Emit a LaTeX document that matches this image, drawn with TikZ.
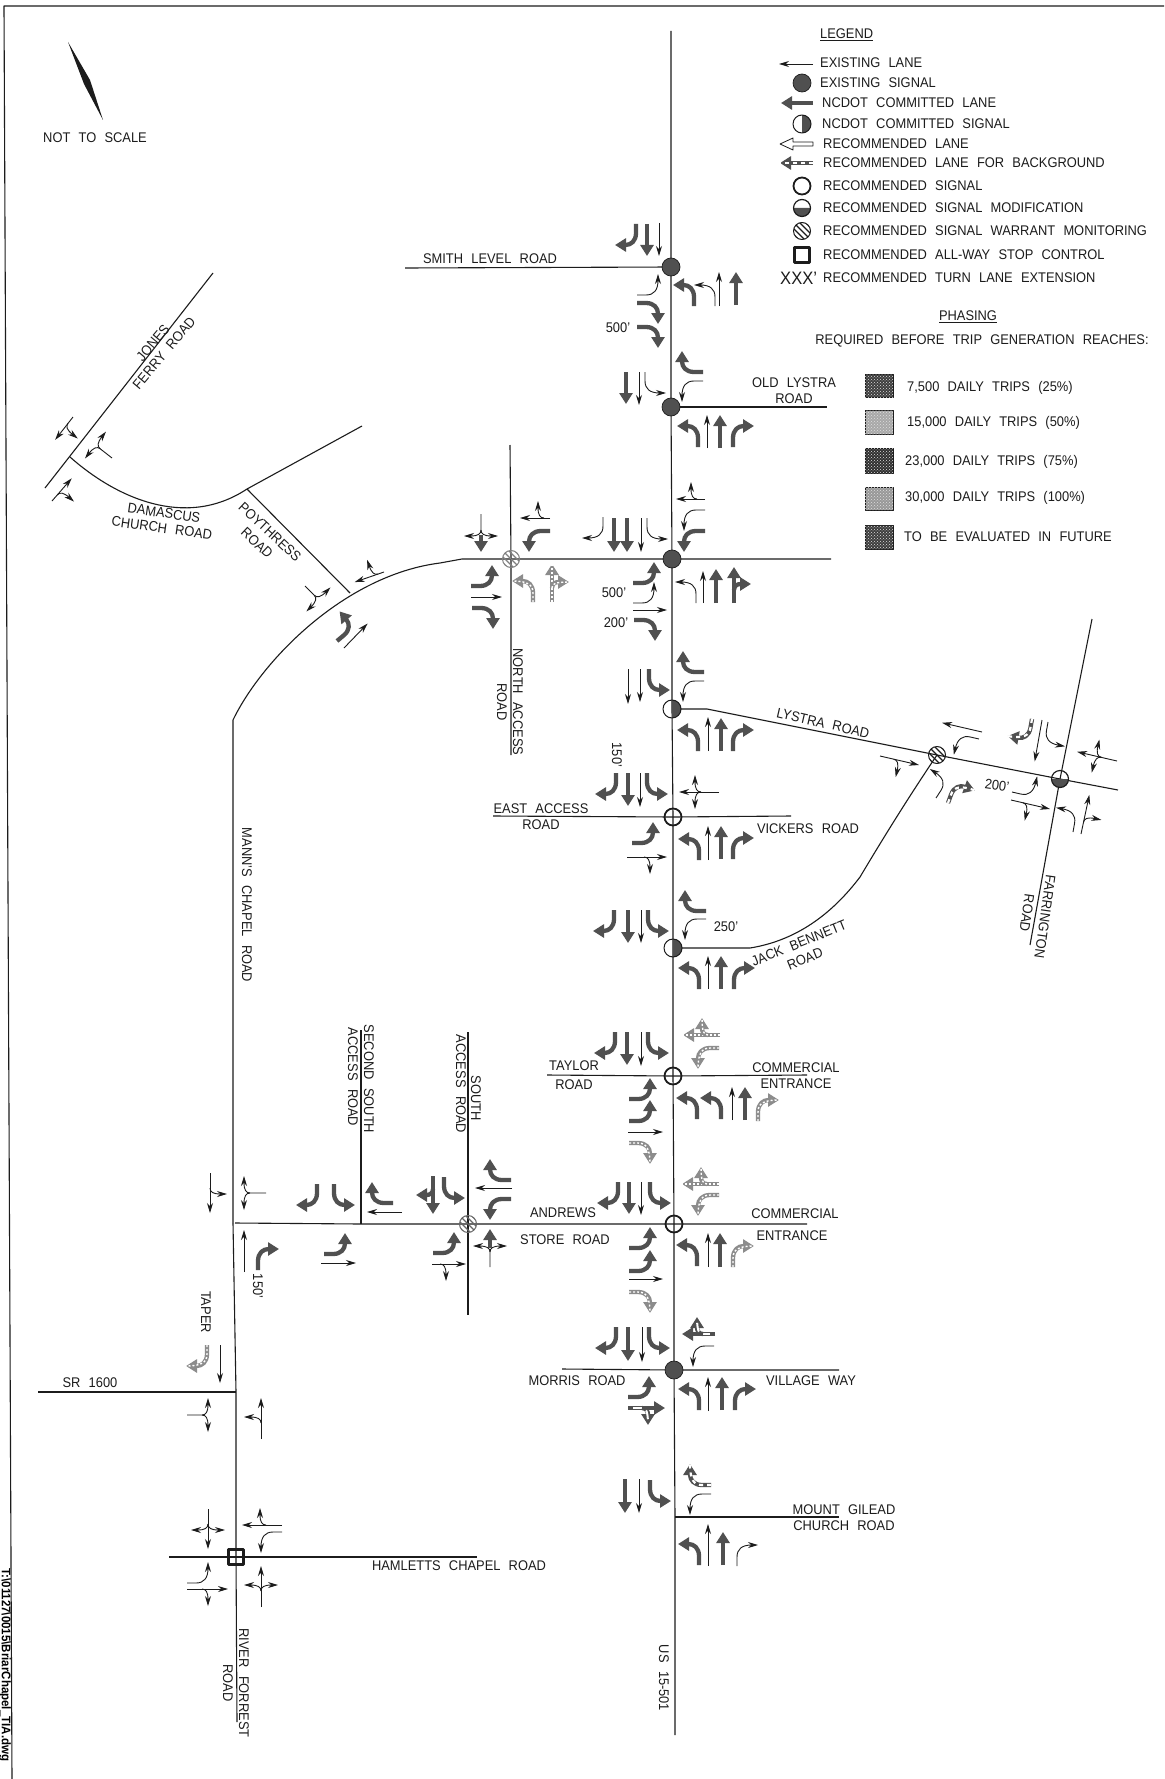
\documentclass[tikz,border=0pt]{standalone}
\usepackage{fontspec}
\setmainfont[WordSpace=2.3,FakeStretch=0.92]{Liberation Sans}
\usetikzlibrary{arrows.meta,calc,positioning,patterns}
\definecolor{roadInk}{HTML}{1C1C1C}
\definecolor{laneDark}{HTML}{505050}
\definecolor{laneLight}{HTML}{8C8C8C}
\definecolor{phaseOne}{HTML}{3E3E3E}
\definecolor{phaseTwo}{HTML}{A8A8A8}
\definecolor{phaseThree}{HTML}{303030}
\definecolor{phaseFour}{HTML}{989898}
\tikzset{
  lanebody/.style={},
  exlane/.style={lanebody/.style={draw=roadInk,line width=.9pt,-{Stealth[length=10pt,width=6pt]}}},
  cmlane/.style={lanebody/.style={draw=laneDark,line width=4.3pt,-{Triangle[length=11pt,width=13pt]}}},
  bglane/.style={lanebody/.style={draw=laneLight,line width=4.3pt,-{Triangle[length=11pt,width=13pt]},postaction={draw=white,line width=1.4pt,dash pattern=on 2pt off 2pt,-}}},
  rclane/.style={lanebody/.style={draw=laneDark,line width=4.3pt,-{Triangle[length=11pt,width=13pt]},postaction={draw=white,line width=2.2pt,dash pattern=on 4pt off 4pt,-}}},
  mxlane/.style={lanebody/.style={draw=laneDark,line width=4.3pt,-{Triangle[length=11pt,width=13pt]},postaction={draw=white,line width=2pt,dash pattern=on 0pt off 5pt on 9pt off 60pt,-}}},
  pics/th/.style={code={\draw[lanebody] (0,0) -- (0,-#1);}},
  pics/lt/.style={code={\draw[lanebody] (0,0) -- (0,-9) .. controls (0,-17) and (-5,-21) .. (-21,-21);}},
  pics/rt/.style={code={\draw[lanebody] (0,0) -- (0,-9) .. controls (0,-17) and (5,-21) .. (21,-21);}},
  pics/lr/.style={code={\draw[lanebody] (0,0) -- (0,-#1) .. controls (0,-#1-4) and (-3,-#1-6) .. (-17,-#1-6);
    \draw[lanebody] (0,-#1) .. controls (0,-#1-4) and (3,-#1-6) .. (17,-#1-6);}},
  pics/tl/.style args={#1/#2}{code={\draw[lanebody] (0,0) -- (0,-#1);
    \draw[lanebody] (0,-#2) .. controls (0,-#2-4) and (-3,-#2-6) .. (-17,-#2-6);}},
  pics/tr/.style args={#1/#2}{code={\draw[lanebody] (0,0) -- (0,-#1);
    \draw[lanebody] (0,-#2) .. controls (0,-#2-4) and (3,-#2-6) .. (17,-#2-6);}},
  pics/tlr/.style args={#1/#2}{code={\draw[lanebody] (0,0) -- (0,-#1);
    \draw[lanebody] (0,-#2) .. controls (0,-#2-4) and (-3,-#2-6) .. (-17,-#2-6);
    \draw[lanebody] (0,-#2) .. controls (0,-#2-4) and (3,-#2-6) .. (17,-#2-6);}},
  pics/exsig/.style={code={\fill[laneDark] (0,0) circle (9pt); \draw[line width=.7pt,roadInk] (0,0) circle (9pt);}},
  pics/cmsig/.style={code={\fill[laneDark] (0,-9) arc (90:-90:9pt) -- cycle; \draw[line width=1pt,roadInk] (0,0) circle (9pt);}},
  pics/rcsig/.style={code={\draw[line width=1.8pt,roadInk] (0,0) circle (8.5pt);}},
  pics/modsig/.style={code={\fill[laneDark] (-8.5,0) arc (180:360:8.5pt) -- cycle; \draw[line width=1.2pt,roadInk] (0,0) circle (8.5pt);}},
  pics/wmsig/.style={code={\begin{scope} \clip (0,0) circle (8.5pt);
      \foreach \d in {-12,-6,0,6,12} \draw[line width=1.2pt] (\d-10,-10) -- (\d+10,10);
    \end{scope} \draw[line width=1pt] (0,0) circle (8.5pt);}},
  pics/awsq/.style={code={\draw[line width=2.2pt,roadInk] (-7.5,-7.5) rectangle (7.5,7.5);}},
  road/.style={draw=roadInk,line width=1.1pt},
  rdtxt/.style={font=\fontsize{14}{15}\selectfont,inner sep=0pt,text=roadInk,align=center},
  legtxt/.style={rdtxt,anchor=west},
  phbox/.style={draw=roadInk,line width=.5pt,postaction={pattern=crosshatch dots,pattern color=white!75!gray}}
}
\begin{document}
\begin{tikzpicture}[x=1pt,y=-1pt,>=Stealth,line cap=butt,line join=round]
\useasboundingbox (0,0) rectangle (1164,1779);
\fill[white] (0,0) rectangle (1164,1779);
\draw[line width=1.1pt,roadInk] (1164,6) -- (4,6) -- (12,1779);
\node[rotate=-90,font=\bfseries\fontsize{12.5}{12.5}\selectfont,inner sep=0pt] (filetag) at (5,1665) {T:\textbackslash 01127\textbackslash 0015\textbackslash BriarChapel\_TIA.dwg};
% north arrow
\fill[roadInk] (68,42) -- (90,80) -- (103,120) -- (84,84) -- cycle;
\node[rdtxt] (scalelbl) at (95,138) {NOT TO SCALE};
% intersections
\coordinate (smith) at (671,267); \coordinate (oldlys) at (671,407); \coordinate (fordham) at (672,559);
\coordinate (lystra) at (672,709); \coordinate (vickers) at (673,817); \coordinate (jack) at (673,948);
\coordinate (taylor) at (673,1076); \coordinate (andrews) at (674,1224); \coordinate (morris) at (674,1370);
\coordinate (gilead) at (675,1517); \coordinate (nacc) at (511,559); \coordinate (sacc) at (468,1224);
\coordinate (ssacc) at (361,1224); \coordinate (mann) at (235,1223); \coordinate (sr) at (236,1392);
\coordinate (hamlet) at (236,1557); \coordinate (lyswest) at (937,755); \coordinate (farr) at (1060,779);
\coordinate (poy) at (350,593); \coordinate (dam) at (247,489); \coordinate (jones) at (70,457);
% roads
\draw[road] (671,31) -- (smith) -- (oldlys) -- (fordham) -- (lystra) -- (vickers) -- (jack) -- (taylor) -- (andrews) -- (morris) -- (gilead) -- (675,1735);
\draw[road] (405,268) -- (smith); \draw[road] (oldlys) -- (827,407);
\draw[road] (233,1223) -- (233,720) .. controls (262,660) and (345,575) .. (440,563) -- (462,559) -- (nacc) -- (fordham) -- (831,559);
\draw[road] (510,445) -- (nacc) -- (511,755);
\draw[road] (lystra) -- (707,709) -- (lyswest) -- (farr) -- (1118,790);
\draw[road] (1092,619) -- (farr) -- (1030,945);
\draw[road] (493,816) -- (vickers) -- (791,816);
\draw[road] (jack) -- (750,948) .. controls (800,940) and (835,910) .. (860,877) .. controls (885,835) and (910,795) .. (lyswest);
\draw[road] (547,1075) -- (taylor) -- (807,1075);
\draw[road] (mann) -- (ssacc) -- (sacc) -- (andrews) -- (807,1224);
\draw[road] (sacc) -- (468,1315); \draw[road] (468,1032) -- (sacc); \draw[road] (361,1030) -- (ssacc);
\draw[road] (562,1369) -- (morris) -- (839,1370);
\draw[road] (gilead) -- (839,1517);
\draw[road] (233,1223) -- (sr) -- (hamlet) -- (237,1722);
\draw[road] (38,1392) -- (sr); \draw[road] (169,1557) -- (hamlet) -- (477,1557);
\draw[road] (213,273) -- (45,488);
\draw[road] (jones) .. controls (115,497) and (185,530) .. (dam) -- (362,426);
\draw[road] (dam) -- (poy);
% signals
\pic at (smith) {exsig}; \pic at (oldlys) {exsig}; \pic at (fordham) {exsig}; \pic at (morris) {exsig};
\pic at (lystra) {cmsig}; \pic at (jack) {cmsig};
\pic at (vickers) {rcsig}; \pic at (taylor) {rcsig}; \pic at (andrews) {rcsig};
\pic[gray] at (nacc) {wmsig}; \pic[gray!80!black] at (sacc) {wmsig}; \pic[roadInk] at (lyswest) {wmsig};
\pic at (farr) {modsig}; \pic at (hamlet) {awsq};
% smith level
\pic[cmlane,rotate=180] at (636,224) {rt}; \pic[cmlane,rotate=180] at (647,224) {th=32}; \pic[exlane,rotate=180] at (659,223) {th=33};
\pic[exlane,rotate=-90] at (637,295) {lt}; \pic[cmlane,rotate=-90] at (637,303) {rt}; \pic[cmlane,rotate=-90] at (637,327) {rt};
\pic[cmlane] at (694,306) {lt}; \pic[exlane] at (715,306) {lt}; \pic[exlane] at (719,306) {th=34}; \pic[cmlane] at (736,305) {th=33};
% old lystra
\pic[cmlane,rotate=90] at (703,372) {rt}; \pic[exlane,rotate=90] at (703,381) {lt};
\pic[cmlane,rotate=180] at (626,372) {th=32}; \pic[exlane,rotate=180] at (639,372) {th=33}; \pic[exlane,rotate=180] at (645,372) {lt};
\pic[cmlane] at (698,447) {lt}; \pic[exlane] at (707,448) {th=33}; \pic[cmlane] at (720,448) {th=33}; \pic[cmlane] at (733,447) {rt};
% fordham
\pic[exlane,rotate=90] at (705,499) {tr=29/8}; \pic[exlane,rotate=90] at (705,510) {lt}; \pic[cmlane,rotate=90] at (705,531) {lt};
\pic[exlane,rotate=180] at (603,517) {rt}; \pic[cmlane,rotate=180] at (614,518) {th=34}; \pic[cmlane,rotate=180] at (627,518) {th=34};
\pic[exlane,rotate=180] at (641,518) {th=34}; \pic[exlane,rotate=180] at (647,518) {lt};
\pic[cmlane,rotate=-90] at (633,583) {lt}; \pic[exlane,rotate=-90] at (633,603) {lt}; \pic[exlane,rotate=-90] at (633,610) {th=34}; \pic[cmlane,rotate=-90] at (634,620) {rt};
\pic[exlane] at (696,603) {lt}; \pic[exlane] at (703,603) {th=32}; \pic[cmlane] at (716,603) {th=34}; \pic[cmlane] at (734,603) {tr=36/13};
% north access
\pic[exlane,rotate=180] at (481,514) {lr=16}; \pic[cmlane,rotate=180] at (481,535) {th=17};
\pic[exlane,rotate=90] at (550,518) {tr=30/6}; \pic[cmlane,rotate=90] at (550,531) {lt};
\pic[cmlane,rotate=-90] at (471,586) {lt}; \pic[exlane,rotate=-90] at (471,597) {th=31}; \pic[cmlane,rotate=-90] at (472,608) {rt};
\pic[bglane] at (533,602) {lt}; \pic[bglane] at (552,602) {tr=38/14};
% poythress
\pic[exlane,rotate=109] at (384,572) {tr=31/6}; \pic[exlane,rotate=-135] at (305,586) {lr=13};
\pic[cmlane,rotate=-50] at (337,641) {lt}; \pic[exlane,rotate=-44] at (344,648) {th=34};
% jones ferry
\pic[exlane,rotate=52] at (112,458) {lr=15}; \pic[exlane,rotate=142] at (73,417) {tl=29/8}; \pic[exlane,rotate=-41] at (52,501) {tr=30/8};
% lystra
\pic[cmlane,rotate=90] at (704,672) {rt}; \pic[exlane,rotate=90] at (704,681) {lt};
\pic[exlane,rotate=180] at (628,669) {th=35}; \pic[exlane,rotate=180] at (640,669) {th=33}; \pic[cmlane,rotate=180] at (649,669) {lt};
\pic[cmlane] at (698,751) {lt}; \pic[exlane] at (708,751) {th=34}; \pic[cmlane] at (721,751) {th=33}; \pic[cmlane] at (733,751) {rt};
% vickers
\pic[cmlane,rotate=180] at (616,773) {rt}; \pic[cmlane,rotate=180] at (628,773) {th=33}; \pic[exlane,rotate=180] at (640,773) {th=34}; \pic[cmlane,rotate=180] at (647,773) {lt};
\pic[exlane,rotate=90] at (719,792) {tlr=40/18};
\pic[cmlane,rotate=-90] at (632,843) {lt}; \pic[exlane,rotate=-90] at (627,857) {tr=40/17};
\pic[cmlane] at (699,860) {lt}; \pic[exlane] at (708,860) {th=34}; \pic[cmlane] at (721,859) {th=33}; \pic[cmlane] at (733,859) {rt};
% jack bennett
\pic[cmlane,rotate=90] at (706,911) {rt}; \pic[exlane,rotate=90] at (706,919) {lt};
\pic[cmlane,rotate=180] at (614,910) {rt}; \pic[cmlane,rotate=180] at (628,910) {th=33}; \pic[exlane,rotate=180] at (641,910) {th=33}; \pic[cmlane,rotate=180] at (648,910) {lt};
\pic[cmlane] at (699,989) {lt}; \pic[exlane] at (708,989) {th=33}; \pic[cmlane] at (721,989) {th=33}; \pic[cmlane] at (734,989) {rt};
% lystra west and farrington
\pic[exlane,rotate=77] at (982,732) {th=41}; \pic[exlane,rotate=77] at (979,739) {lt}; \pic[exlane,rotate=-103] at (880,756) {tr=40/14};
\pic[exlane,rotate=-33] at (936,798) {lt}; \pic[rclane,rotate=-20] at (948,803) {rt};
\pic[rclane,rotate=170] at (1032,719) {rt}; \pic[exlane,rotate=170] at (1042,720) {th=42}; \pic[exlane,rotate=170] at (1048,722) {lt};
\pic[exlane,rotate=77] at (1117,761) {tlr=41/16};
\pic[exlane,rotate=-103] at (1012,792) {lt}; \pic[exlane,rotate=-103] at (1011,800) {tr=40/12};
\pic[exlane,rotate=-10] at (1073,832) {lt}; \pic[exlane,rotate=-12] at (1081,834) {tr=40/12};
% taylor
\pic[cmlane,rotate=180] at (615,1032) {rt}; \pic[cmlane,rotate=180] at (627,1032) {th=33}; \pic[exlane,rotate=180] at (641,1032) {th=34}; \pic[cmlane,rotate=180] at (648,1032) {lt};
\pic[bglane,rotate=90] at (720,1035) {tr=37/12}; \pic[bglane,rotate=90] at (719,1048) {lt};
\pic[cmlane,rotate=-90] at (629,1099) {lt}; \pic[cmlane,rotate=-90] at (629,1121) {lt}; \pic[exlane,rotate=-90] at (628,1132) {th=35}; \pic[bglane,rotate=-90] at (629,1143) {rt};
\pic[cmlane] at (697,1119) {lt}; \pic[cmlane] at (721,1119) {lt}; \pic[exlane] at (732,1120) {th=33}; \pic[cmlane] at (745,1120) {th=33}; \pic[bglane] at (758,1121) {rt};
% andrews
\pic[cmlane,rotate=180] at (618,1182) {rt}; \pic[cmlane,rotate=180] at (629,1182) {th=32}; \pic[exlane,rotate=180] at (641,1182) {th=33}; \pic[cmlane,rotate=180] at (650,1182) {lt};
\pic[bglane,rotate=90] at (719,1184) {tr=37/12}; \pic[bglane,rotate=90] at (719,1195) {lt};
\pic[cmlane,rotate=-90] at (629,1248) {lt}; \pic[cmlane,rotate=-90] at (629,1271) {lt}; \pic[exlane,rotate=-90] at (629,1279) {th=34}; \pic[bglane,rotate=-90] at (629,1292) {rt};
\pic[cmlane] at (697,1266) {lt}; \pic[exlane] at (708,1267) {th=34}; \pic[cmlane] at (720,1267) {th=34}; \pic[bglane] at (733,1267) {rt};
% morris
\pic[cmlane,rotate=180] at (616,1327) {rt}; \pic[cmlane,rotate=180] at (628,1327) {th=34}; \pic[exlane,rotate=180] at (642,1327) {th=35}; \pic[cmlane,rotate=180] at (649,1327) {lt};
\pic[mxlane,rotate=90] at (715,1334) {tr=33/12}; \pic[exlane,rotate=90] at (714,1346) {lt};
\pic[cmlane,rotate=-90] at (628,1397) {lt}; \pic[mxlane,rotate=-90] at (628,1408) {tr=37/14};
\pic[cmlane] at (699,1410) {lt}; \pic[exlane] at (708,1411) {th=34}; \pic[cmlane] at (722,1410) {th=33}; \pic[cmlane] at (735,1410) {rt};
% mount gilead
\pic[cmlane,rotate=180] at (625,1479) {th=34}; \pic[exlane,rotate=180] at (639,1479) {th=34}; \pic[cmlane,rotate=180] at (650,1480) {lt};
\pic[rclane,rotate=90] at (711,1485) {rt}; \pic[exlane,rotate=90] at (711,1494) {lt};
\pic[cmlane] at (699,1565) {lt}; \pic[exlane] at (708,1566) {th=42}; \pic[cmlane] at (723,1565) {th=33}; \pic[exlane] at (737,1566) {rt};
% andrews west
\pic[exlane,rotate=180] at (210,1173) {tl=40/15}; \pic[exlane,rotate=90] at (266,1193) {lr=16};
\pic[exlane] at (244,1272) {th=42}; \pic[cmlane] at (258,1270) {rt};
\pic[cmlane,rotate=180] at (317,1184) {rt}; \pic[cmlane,rotate=180] at (334,1184) {lt};
\pic[cmlane,rotate=-90] at (324,1254) {lt}; \pic[exlane,rotate=-90] at (321,1263) {th=35};
\pic[cmlane,rotate=90] at (393,1203) {rt}; \pic[exlane,rotate=90] at (402,1212) {th=35};
\pic[cmlane,rotate=180] at (433,1176) {tr=38/13}; \pic[cmlane,rotate=180] at (444,1177) {lt};
\pic[cmlane,rotate=90] at (511,1180) {rt}; \pic[exlane,rotate=90] at (512,1188) {th=37}; \pic[cmlane,rotate=90] at (511,1199) {lt};
\pic[cmlane,rotate=-90] at (433,1253) {lt}; \pic[exlane,rotate=-90] at (432,1264) {tr=34/8};
\pic[exlane] at (490,1267) {lr=15}; \pic[cmlane] at (490,1248) {th=19};
% sr 1600 and hamletts
\pic[bglane,rotate=180] at (207,1345) {rt}; \pic[exlane,rotate=180] at (220,1345) {th=38};
\pic[exlane,rotate=-90] at (187,1415) {lr=15}; \pic[exlane] at (261,1439) {tl=41/16};
\pic[exlane,rotate=180] at (208,1509) {tlr=40/15}; \pic[exlane,rotate=90] at (282,1525) {tr=40/16}; \pic[exlane,rotate=90] at (282,1532) {lt};
\pic[exlane,rotate=-90] at (187,1583) {lt}; \pic[exlane,rotate=-90] at (187,1589) {tr=41/15}; \pic[exlane] at (261,1607) {tlr=41/16};
% road names
\node[rdtxt] (smithlbl) at (490,259) {SMITH LEVEL ROAD};
\node[rdtxt] (oldlbl) at (794,391) {OLD LYSTRA\\[1pt]ROAD};
\node[rdtxt] (ext500a) at (618,328) {500'};
\node[rdtxt,rotate=50] (joneslbl) at (153,343) {JONES};
\node[rdtxt,rotate=50] (ferrylbl) at (164,353) {FERRY ROAD};
\node[rdtxt,rotate=-8] (damlbl) at (164,513) {DAMASCUS};
\node[rdtxt,rotate=-8] (churchlbl) at (162,528) {CHURCH ROAD};
\node[rdtxt,rotate=-43] (poylbl) at (270,532) {POYTHRESS};
\node[rdtxt,rotate=-43] (poyrdlbl) at (257,543) {ROAD};
\node[rdtxt,rotate=-90] (naccalbl) at (518,702) {NORTH ACCESS};
\node[rdtxt,rotate=-90] (naccblbl) at (502,702) {ROAD};
\node[rdtxt] (ext500b) at (614,593) {500'};
\node[rdtxt] (ext200a) at (616,623) {200'};
\node[rdtxt,rotate=-13] (lyslbl) at (823,723) {LYSTRA ROAD};
\node[rdtxt,rotate=-90] (ext150a) at (617,755) {150'};
\node[rdtxt] (eastlbl) at (541,817) {EAST ACCESS\\[1pt]ROAD};
\node[rdtxt] (viclbl) at (808,829) {VICKERS ROAD};
\node[rdtxt] (ext250) at (726,927) {250'};
\node[rdtxt,rotate=22] (jacklbl) at (799,943) {JACK BENNETT};
\node[rdtxt,rotate=22] (jackrdlbl) at (805,959) {ROAD};
\node[rdtxt,rotate=-8] (ext200b) at (997,785) {200'};
\node[rdtxt,rotate=-98] (farrlbl) at (1045,917) {FARRINGTON};
\node[rdtxt,rotate=-98] (farrrdlbl) at (1027,913) {ROAD};
\node[rdtxt,rotate=-90] (mannlbl) at (247,905) {MANN'S CHAPEL ROAD};
\node[rdtxt] (taylbl) at (574,1075) {TAYLOR\\[4pt]ROAD};
\node[rdtxt] (comalbl) at (796,1076) {COMMERCIAL\\[1pt]ENTRANCE};
\node[rdtxt,rotate=-90] (ssaclbl) at (369,1079) {SECOND SOUTH};
\node[rdtxt,rotate=-90] (ssadlbl) at (353,1077) {ACCESS ROAD};
\node[rdtxt,rotate=-90] (saclbl) at (476,1098) {SOUTH};
\node[rdtxt,rotate=-90] (sadlbl) at (461,1084) {ACCESS ROAD};
\node[rdtxt] (andlbl) at (563,1213) {ANDREWS};
\node[rdtxt] (storelbl) at (565,1240) {STORE ROAD};
\node[rdtxt] (comclbl) at (795,1214) {COMMERCIAL};
\node[rdtxt] (comdlbl) at (792,1236) {ENTRANCE};
\node[rdtxt] (morlbl) at (577,1381) {MORRIS ROAD};
\node[rdtxt] (villbl) at (811,1381) {VILLAGE WAY};
\node[rdtxt] (gillbl) at (844,1518) {MOUNT GILEAD\\[1pt]CHURCH ROAD};
\node[rdtxt,rotate=-90] (uslbl) at (664,1678) {US 15-501};
\node[rdtxt,rotate=-90] (riverlbl) at (244,1683) {RIVER FORREST};
\node[rdtxt,rotate=-90] (riverrdlbl) at (228,1683) {ROAD};
\node[rdtxt,rotate=-90] (taperlbl) at (206,1312) {TAPER};
\node[rdtxt,rotate=-90] (ext150b) at (258,1286) {150'};
\node[rdtxt] (srlbl) at (90,1383) {SR 1600};
\node[rdtxt] (hamlbl) at (459,1566) {HAMLETTS CHAPEL ROAD};
% legend
\node[legtxt] (leghead) at (820,35) {\underline{LEGEND}};
\pic[exlane,rotate=90] at (813,64) {th=34}; \node[legtxt] (legex) at (820,63) {EXISTING LANE};
\pic at (802,83) {exsig}; \node[legtxt] (legexs) at (820,83) {EXISTING SIGNAL};
\pic[cmlane,rotate=90] at (813,103) {th=32}; \node[legtxt] (legcm) at (822,103) {NCDOT COMMITTED LANE};
\pic at (802,124) {cmsig}; \node[legtxt] (legcms) at (822,124) {NCDOT COMMITTED SIGNAL};
\draw[draw=roadInk,line width=.8pt,fill=white] (813,142) -- (793,142) -- (793,138) -- (780,144) -- (793,150) -- (793,146) -- (813,146) -- cycle;
\node[legtxt] (legrc) at (823,144) {RECOMMENDED LANE};
\pic[rclane,rotate=90] at (813,163) {th=33}; \node[legtxt] (legbg) at (823,163) {RECOMMENDED LANE FOR BACKGROUND};
\pic at (802,186) {rcsig}; \node[legtxt] (legrcs) at (823,186) {RECOMMENDED SIGNAL};
\pic at (802,208) {modsig}; \node[legtxt] (legmod) at (823,208) {RECOMMENDED SIGNAL MODIFICATION};
\pic[roadInk] at (802,231) {wmsig}; \node[legtxt] (legwm) at (823,231) {RECOMMENDED SIGNAL WARRANT MONITORING};
\pic at (802,255) {awsq}; \node[legtxt] (legaw) at (823,255) {RECOMMENDED ALL-WAY STOP CONTROL};
\node[legtxt,font=\fontsize{18}{18}\selectfont] (legxxx) at (780,278) {XXX'}; \node[legtxt] (legext) at (823,278) {RECOMMENDED TURN LANE EXTENSION};
% phasing
\node[rdtxt] (phhead) at (968,317) {\underline{PHASING}};
\node[rdtxt] (phreq) at (982,341) {REQUIRED BEFORE TRIP GENERATION REACHES:};
\path[phbox,fill=phaseOne] (865,374) rectangle (893,397); \node[legtxt] (phone) at (907,388) {7,500 DAILY TRIPS (25\%)};
\path[phbox,fill=phaseTwo] (865,410) rectangle (893,434); \node[legtxt] (phtwo) at (907,423) {15,000 DAILY TRIPS (50\%)};
\path[phbox,fill=phaseThree] (865,448) rectangle (893,473); \node[legtxt] (phthree) at (905,462) {23,000 DAILY TRIPS (75\%)};
\path[phbox,fill=phaseFour] (865,487) rectangle (893,510); \node[legtxt] (phfour) at (905,498) {30,000 DAILY TRIPS (100\%)};
\path[phbox,fill=phaseOne] (865,525) rectangle (893,549); \node[legtxt] (phfive) at (904,537) {TO BE EVALUATED IN FUTURE};
\end{tikzpicture}
\end{document}
